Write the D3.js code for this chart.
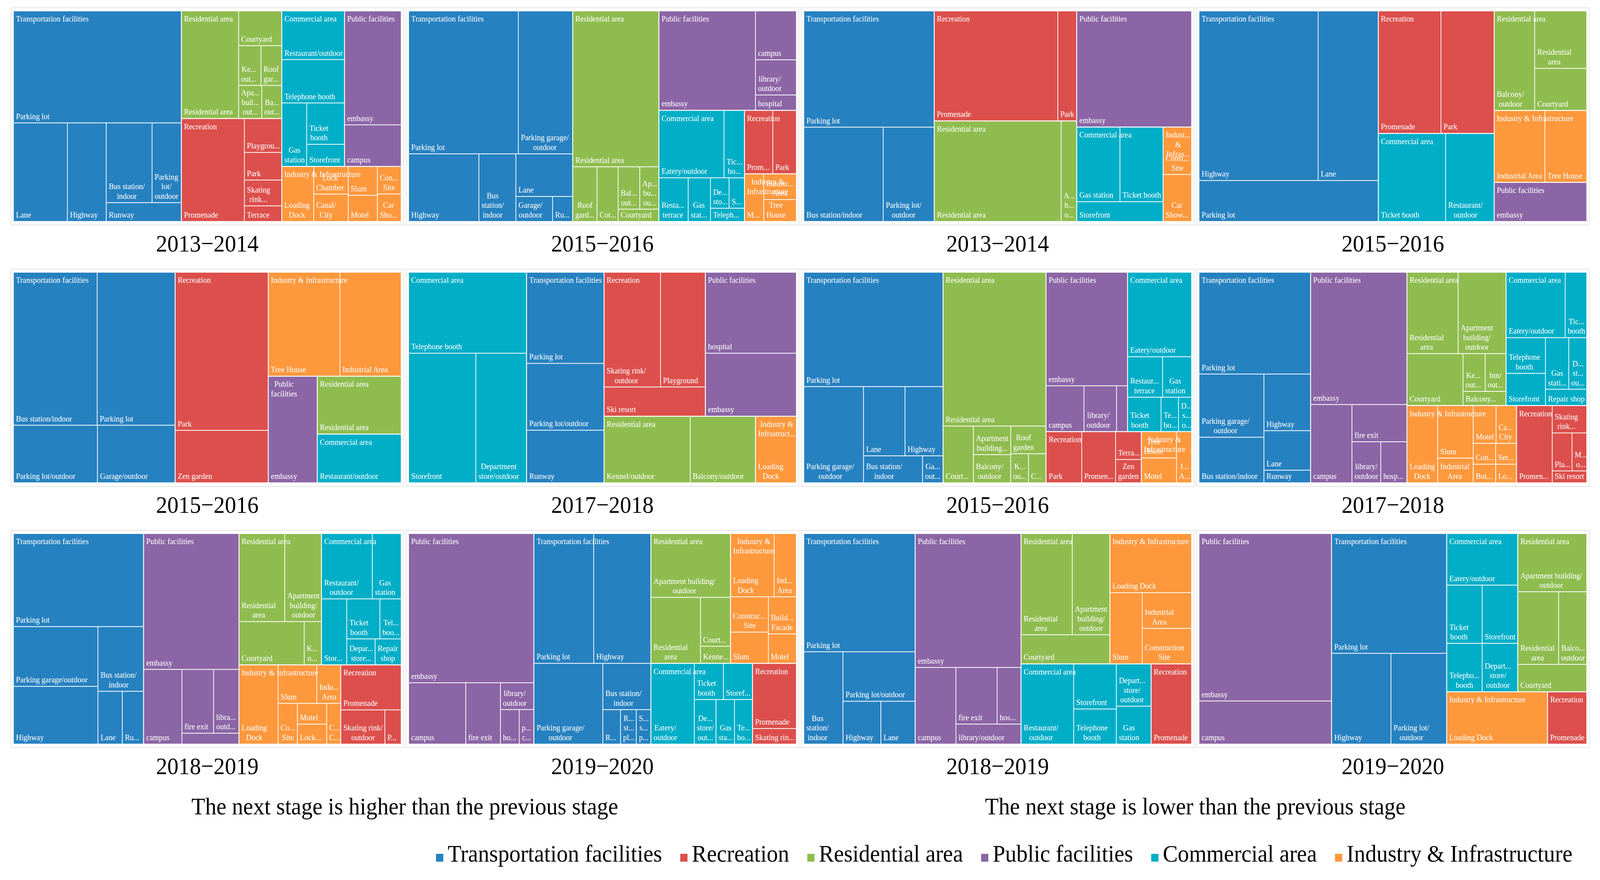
<!DOCTYPE html>
<html>
<head>
<meta charset="utf-8">
<script src="https://cdn.jsdelivr.net/npm/d3@7"></script>
<style>
  html, body { margin: 0; padding: 0; background: #fff; overflow: hidden; }
  svg { display: block; width: 100vw; height: 100vh; }
</style>
</head>
<body>
<svg id="chart"></svg>
<script>
// ---- categories ----
var categoryKeys = ["T", "Rc", "Rs", "P", "C", "I"];
var categoryNames = ["Transportation facilities", "Recreation", "Residential area",
                     "Public facilities", "Commercial area", "Industry & Infrastructure"];
var categoryColors = ["#2681c0", "#dc4f4c", "#8fbc4f", "#8b65a5", "#00aec7", "#fe983d"];

var panelTitles = ["2013\u22122014", "2015\u22122016", "2013\u22122014", "2015\u22122016",
                   "2015\u22122016", "2017\u22122018", "2015\u22122016", "2017\u22122018",
                   "2018\u22122019", "2019\u22122020", "2018\u22122019", "2019\u22122020"];
var captions = ["The next stage is higher than the previous stage",
                "The next stage is lower than the previous stage"];

// ---- values: [category, scene, share] ----
var higher1314 = [
  ["T","Parking lot",226],["T","Lane",64],["T","Highway",46],["T","Bus station/indoor",44],["T","Parking lot/outdoor",28],["T","Runway",17],
  ["Rs","Residential area",74],["Rs","Courtyard",18],["Rs","Kennel/outdoor",10.7],["Rs","Roof garden",9.9],["Rs","Apartment building/outdoor",9.2],["Rs","Balcony/outdoor",7.9],
  ["Rc","Promenade",78],["Rc","Playground",15.2],["Rc","Park",12.4],["Rc","Skating rink/outdoor",11.6],["Rc","Terrace",7],
  ["C","Restaurant/outdoor",36.7],["C","Telephone booth",32.7],["C","Gas station",19],["C","Ticket booth",18.8],["C","Storefront",10],
  ["P","embassy",77.7],["P","campus",28.3],
  ["I","Loading Dock",21.1],["I","Lock Chamber",11.5],["I","Canal/City",11.4],["I","Slum",10.1],["I","Motel",9.2],["I","Construction Site",7.9],["I","Car Showroom",7.9]
];
var higher1516a = [
  ["T","Parking lot",188],["T","Parking garage/outdoor",93],["T","Highway",57],["T","Bus station/indoor",30],["T","Lane",29],["T","Garage/outdoor",11],["T","Runway",6],
  ["Rs","Residential area",161],["Rs","Roof garden",15.9],["Rs","Cottage",13.9],["Rs","Balcony/outdoor",11],["Rs","Apartment building/outdoor",9.7],["Rs","Courtyard",6],
  ["P","embassy",115],["P","campus",24],["P","library/outdoor",17.3],["P","hospital",7.5],
  ["C","Eatery/outdoor",52.6],["C","Ticket booth",16.5],["C","Restaurant terrace",15.3],["C","Gas station",11.7],["C","Department store/outdoor",6.8],["C","Storefront",5.6],["C","Telephone booth",5.4],
  ["Rc","Promenade",21.5],["Rc","Park",18],
  ["I","Motel",11],["I","Industrial Area",10.1],["I","Tree House",8.6]
];
var lower1314 = [
  ["T","Parking lot",183],["T","Bus station/indoor",90.5],["T","Parking lot/outdoor",58],
  ["Rc","Promenade",164],["Rc","Park",25],
  ["Rs","Residential area",154],["Rs","Apartment building/outdoor",18.8],
  ["P","embassy",161],
  ["C","Gas station",39],["C","Ticket booth",38.9],["C","Storefront",20.6],
  ["I","Construction Site",16.3],["I","Car Showroom",16.2]
];
var lower1516a = [
  ["T","Highway",244],["T","Lane",123],["T","Parking lot",88.6],
  ["Rc","Promenade",92.6],["Rc","Park",78.7],
  ["C","Ticket booth",71.5],["C","Restaurant/outdoor",51.6],
  ["Rs","Balcony/outdoor",48.6],["Rs","Residential area",36.2],["Rs","Courtyard",26.5],
  ["I","Industrial Area",44],["I","Tree House",36.3],
  ["P","embassy",43.8]
];
var higher1516b = [
  ["T","Bus station/indoor",155],["T","Parking lot",144],["T","Parking lot/outdoor",58.5],["T","Garage/outdoor",54],
  ["Rc","Park",178],["Rc","Zen garden",59],
  ["I","Tree House",90],["I","Industrial Area",77],
  ["P","embassy",63],
  ["Rs","Residential area",58.7],
  ["C","Restaurant/outdoor",49.5]
];
var higher1718 = [
  ["C","Telephone booth",115],["C","Storefront",105],["C","Department store/outdoor",79],
  ["T","Parking lot",85],["T","Parking lot/outdoor",62.3],["T","Runway",49],
  ["Rc","Skating rink/outdoor",78],["Rc","Playground",62],["Rc","Ski resort",35.6],
  ["P","hospital",88.8],["P","embassy",69],
  ["Rs","Kennel/outdoor",69],["Rs","Balcony/outdoor",52.3],
  ["I","Loading Dock",32.8]
];
var lower1516b = [
  ["T","Parking lot",191],["T","Parking garage/outdoor",68.9],["T","Lane",34.5],["T","Highway",31.5],["T","Bus station/indoor",19.1],["T","Garage/outdoor",6.6],
  ["Rs","Residential area",190],["Rs","Courtyard",20.6],["Rs","Apartment building/outdoor",12.8],["Rs","Balcony/outdoor",12.6],["Rs","Roof garden",11.7],["Rs","Kennel/outdoor",6.2],["Rs","Cottage",6.1],
  ["P","embassy",111],["P","campus",20.8],["P","library/outdoor",17.9],["P","hospital",6],
  ["C","Eatery/outdoor",65],["C","Restaurant terrace",17],["C","Gas station",14.1],["C","Ticket booth",13.8],["C","Telephone booth",7.2],["C","Department store/outdoor",5.4],
  ["Rc","Park",21.9],["Rc","Promenade",20.8],["Rc","Terrace",8.6],["Rc","Zen garden",7.2],
  ["I","Tree House",11.1],["I","Motel",10.5],["I","Industrial Area",9.3]
];
var lower1718 = [
  ["T","Parking lot",135.6],["T","Parking garage/outdoor",49],["T","Bus station/indoor",35.3],["T","Highway",31.5],["T","Lane",22],["T","Runway",7],
  ["P","embassy",152],["P","campus",38.6],["P","fire exit",24.4],["P","library/outdoor",14.1],["P","hospital",12.8],
  ["Rs","Residential area",49.7],["Rs","Apartment building/outdoor",46.5],["Rs","Courtyard",34.7],["Rs","Kennel/outdoor",10],["Rs","Inn/outdoor",9.4],["Rs","Balcony/outdoor",7.2],
  ["C","Eatery/outdoor",46.2],["C","Ticket booth",16.9],["C","Telephone booth",16.8],["C","Storefront",15.1],["C","Gas station",14.4],["C","Department store/outdoor",11.1],["C","Repair shop",8],
  ["I","Loading Dock",28.3],["I","Slum",22.3],["I","Industrial Area",10.5],["I","Motel",10.3],["I","Canal/City",9.2],["I","Construction Site",5.6],["I","Server room",5.2],["I","Building Facade",5],["I","Lock Chamber",4.6],
  ["Rc","Promenade",32.9],["Rc","Skating rink/outdoor",11.3],["Rc","Playground",9],["Rc","Mountain/outdoor",6.7],["Rc","Ski resort",4.9]
];
var higher1819 = [
  ["T","Parking lot",145],["T","Parking garage/outdoor",60.5],["T","Highway",58.4],["T","Bus station/indoor",35.3],["T","Lane",15.4],["T","Runway",13.4],
  ["P","embassy",155],["P","campus",34.2],["P","fire exit",24.2],["P","library/outdoor",19.4],["P","hospital",7.4],
  ["Rs","Residential area",48.2],["Rs","Apartment building/outdoor",38.7],["Rs","Courtyard",33.7],["Rs","Kennel/outdoor",8.9],
  ["C","Restaurant/outdoor",39.8],["C","Gas station",22.6],["C","Storefront",19.9],["C","Ticket booth",15.9],["C","Telephone booth",10.2],["C","Department store/outdoor",8.8],["C","Repair shop",8.1],
  ["I","Loading Dock",37.1],["I","Slum",17.8],["I","Industrial Area",11],["I","Construction Site",9.4],["I","Motel",7.3],["I","Lock Chamber",7],["I","Canal/City",6.8],
  ["Rc","Promenade",32.6],["Rc","Skating rink/outdoor",18.1],["Rc","Park",6.7]
];
var higher1920 = [
  ["P","embassy",224],["P","campus",42],["P","fire exit",25.5],["P","library/outdoor",10.7],["P","hospital",7.8],["P","prison cell",6],
  ["T","Parking lot",93],["T","Highway",88.9],["T","Parking garage/outdoor",66.7],["T","Bus station/indoor",26.6],["T","Runway",7.3],["T","Railway station/platform",6.5],["T","Subway station/platform",6],
  ["Rs","Apartment building/outdoor",60.9],["Rs","Residential area",39.2],["Rs","Courtyard",17.6],["Rs","Kennel/outdoor",6.1],
  ["I","Loading Dock",33.1],["I","Industrial Area",16.9],["I","Construction Site",16],["I","Slum",14.1],["I","Building Facade",12.5],["I","Motel",9.9],
  ["C","Eatery/outdoor",42],["C","Ticket booth",12.6],["C","Storefront",12.6],["C","Department store/outdoor",11.6],["C","Gas station",9.9],["C","Telephone booth",9.6],
  ["Rc","Promenade",34.3],["Rc","Skating rink/outdoor",8.2]
];
var lower1819 = [
  ["T","Parking lot",158],["T","Bus station/indoor",43.4],["T","Parking lot/outdoor",42.9],["T","Highway",19.5],["T","Lane",17.6],
  ["P","embassy",170],["P","campus",37.4],["P","fire exit",28],["P","hospital",16.2],["P","library/outdoor",15.6],
  ["Rs","Residential area",62.2],["Rs","Apartment building/outdoor",45.7],["Rs","Courtyard",31],
  ["I","Loading Dock",58],["I","Slum",27.6],["I","Industrial Area",21.2],["I","Construction Site",21],
  ["C","Restaurant/outdoor",50.6],["C","Storefront",23.1],["C","Telephone booth",18],["C","Department store/outdoor",17.6],["C","Gas station",15.8],
  ["Rc","Promenade",39]
];
var lower1920 = [
  ["P","embassy",267.7],["P","campus",68.9],
  ["T","Parking lot",166.3],["T","Highway",65],["T","Parking lot/outdoor",61],
  ["C","Eatery/outdoor",44.2],["C","Ticket booth",24.9],["C","Storefront",25],["C","Telephone booth",20.7],["C","Department store/outdoor",20.8],
  ["Rs","Apartment building/outdoor",48.5],["Rs","Residential area",35.8],["Rs","Balcony/outdoor",24.7],["Rs","Courtyard",22.8],
  ["I","Loading Dock",63.6],
  ["Rc","Promenade",24.8]
];

// strip order of the tiling: c = column on the left, r = row on top, n = children in it
var higher1314Tiling = {root:"c1 c2 r2 r1", T:"r1 c1 c1 r2 r1", Rs:"c1 r1 r2 c1 c1", Rc:"c1 c4", C:"r1 r1 c1 c2", P:"c2", I:"c1 c2 c2 c2"};
var higher1516aTiling = {root:"c1 c1 r1 c1 c2", T:"r2 c1 c1 r1 r2", Rs:"r1 c1 c1 r2 r1", P:"c1 c3", C:"r2 c1 c1 r2 r1", Rc:"c1 c1", I:"c1 c2"};
var lower1314Tiling = {root:"c1 c2 r1 c1 c1", T:"r1 c1 c1", Rc:"c1 c1", Rs:"c1 c1", C:"r2 r1", I:"c2"};
var lower1516aTiling = {root:"c1 c2 c3", T:"r2 r1", Rc:"c1 c1", C:"c1 c1", Rs:"c1 c2", I:"c1 c1"};
var higher1516bTiling = {root:"c1 c1 r1 c1 c2", T:"r2 r2", Rc:"c2", I:"c1 c1"};
var higher1718Tiling = {root:"c1 c1 r2 r2", C:"r1 r2", T:"c3", Rc:"r2 r1", P:"c2", Rs:"c1 c1"};
var lower1516bTiling = {root:"c1 c1 r2 r2", T:"r1 c1 r2 r2", Rs:"r1 c1 c2 r1 r2", P:"r1 r3", C:"r1 r2 r3", Rc:"c1 c1 c2", I:"c2 c1"};
var lower1718Tiling = {root:"c1 c1 r2 r2", T:"r1 c2 c3", P:"r1 c1 r1 r2", Rs:"r2 c1 r2 r1", C:"r2 c2 r2 r1", I:"c1 c2 r2 r2 r2", Rc:"c1 r1 r2 r1"};
var higher1819Tiling = {root:"c1 c1 r2 r2", T:"r1 c2 r1 r2", P:"r1 c1 r2 r1", Rs:"r2 r2", C:"r2 c1 r2 r2", I:"c1 r2 c1 c2 c1", Rc:"r1 r2"};
var higher1920Tiling = {root:"c1 c1 r2 r2", P:"r1 c1 c1 r1 r2", T:"r2 c1 r1 r3", Rs:"r1 c1 c2", I:"r2 c2 c2", C:"c1 r2 r3", Rc:"c2"};
var lower1819Tiling = {root:"c1 c1 r2 r2", T:"r1 c1 r1 r2", P:"r1 c1 r2 r1", Rs:"r2 r1", I:"r1 c1 c2", C:"c1 c2 c2"};
var lower1920Tiling = {root:"c1 c1 r2 r2", P:"c2", T:"r1 r2", C:"r1 r2 r2", Rs:"r1 r2 r1"};

var panels = [
  [higher1314, higher1314Tiling], [higher1516a, higher1516aTiling], [lower1314, lower1314Tiling], [lower1516a, lower1516aTiling],
  [higher1516b, higher1516bTiling], [higher1718, higher1718Tiling], [lower1516b, lower1516bTiling], [lower1718, lower1718Tiling],
  [higher1819, higher1819Tiling], [higher1920, higher1920Tiling], [lower1819, lower1819Tiling], [lower1920, lower1920Tiling]
];

// ---- drawing ----
var W = 4415, H = 2253;
var FONT = '"Liberation Serif", "Times New Roman", serif';
var LABEL_PX = 21, LINE_H = 24.5, PAD_X = 6;
var TM_W = 1068, TM_H = 537;
var BIG_PX = 62;

var color = d3.scaleOrdinal().domain(categoryKeys).range(categoryColors);
var nameOf = d3.scaleOrdinal().domain(categoryKeys).range(categoryNames);

// the drawing is laid out on a 4415 x 2253 canvas and fills the whole window
var svg = d3.select("#chart")
  .attr("viewBox", "0 0 " + W + " " + H)
  .attr("preserveAspectRatio", "none");
svg.append("rect").attr("width", W).attr("height", H).attr("fill", "#fff");

var ctx = document.createElement("canvas").getContext("2d");
function tw(s, px) {
  ctx.font = (px || LABEL_PX) + "px " + FONT;
  return ctx.measureText(s).width;
}

function ellipsize(s, maxW) {
  s = s.replace(/\/$/, "");
  while (s.length > 1 && tw(s + "...") > maxW) s = s.slice(0, -1);
  return s + "...";
}

function wrapLabel(text, maxW, maxLines) {
  if (maxLines < 1 || maxW < 22) return [];
  if (tw(text) <= maxW) return [text];
  var tokens = [];
  text.split(" ").forEach(function(w) { tokens = tokens.concat(w.split(/(?<=\/)/)); });
  var lines = [], line = "";
  tokens.forEach(function(tok) {
    if (tw(tok) > maxW) {
      if (line) lines.push(line);
      lines.push(ellipsize(tok, maxW));
      line = "";
      return;
    }
    if (!line) { line = tok; return; }
    var cand = line + (line.endsWith("/") ? "" : " ") + tok;
    if (tw(cand) <= maxW) line = cand;
    else { lines.push(line); line = tok; }
  });
  if (line) lines.push(line);
  if (lines.length > maxLines) {
    lines.length = maxLines;
    var last = lines[maxLines - 1];
    if (!last.endsWith("...")) lines[maxLines - 1] = ellipsize(last, maxW);
  }
  return lines;
}

function drawLines(g, lines, x, firstBaseline) {
  if (!lines.length) return;
  var bw = d3.max(lines, function(l) { return tw(l); });
  var multi = lines.length > 1;
  var t = g.append("text")
    .attr("fill", "#fff")
    .attr("font-family", FONT)
    .attr("font-size", LABEL_PX)
    .attr("text-anchor", multi ? "middle" : "start");
  lines.forEach(function(l, i) {
    t.append("tspan")
      .attr("x", multi ? x + bw / 2 : x)
      .attr("y", firstBaseline + i * LINE_H)
      .text(l);
  });
}

function planTile(plans) {
  return function(parent, x0, y0, x1, y1) {
    var plan = plans[parent.depth === 0 ? "root" : parent.data.key];
    if (!plan) { d3.treemapSquarify.ratio(1)(parent, x0, y0, x1, y1); return; }
    var kids = parent.children, total = parent.value, i = 0;
    plan.split(" ").forEach(function(tok) {
      var n = +tok.slice(1);
      var part = kids.slice(i, i + n);
      i += n;
      if (!part.length) return;
      var v = d3.sum(part, function(d) { return d.value; });
      var strip = {children: part, value: v};
      if (tok[0] === "c") {
        var xm = x0 + (x1 - x0) * v / total;
        d3.treemapSlice(strip, x0, y0, xm, y1);
        x0 = xm;
      } else {
        var ym = y0 + (y1 - y0) * v / total;
        d3.treemapDice(strip, x0, y0, x1, ym);
        y0 = ym;
      }
      total -= v;
    });
  };
}

panels.forEach(function(p, idx) {
  var col = idx % 4, row = Math.floor(idx / 4);
  var left = 38 + col * 1090.5, top = 29 + row * 669;

  var root = d3.hierarchy({
      key: "root",
      children: d3.groups(p[0], function(d) { return d[0]; }).map(function(gr) {
        return {key: gr[0], children: gr[1].map(function(r) { return {key: r[0], name: r[1], value: r[2]}; })};
      })
    })
    .sum(function(d) { return d.value || 0; });

  d3.treemap()
    .size([TM_W, TM_H])
    .paddingInner(function(n) { return n.depth === 0 ? 2.5 : 2; })
    .tile(planTile(p[1]))(root);

  var g = svg.append("g").attr("transform", "translate(" + left + "," + top + ")");

  g.append("rect")
    .attr("x", -8).attr("y", -9)
    .attr("width", TM_W + 16).attr("height", TM_H + 19)
    .attr("fill", "none").attr("stroke", "#e4e4e4").attr("stroke-width", 2);

  var leaves = root.leaves();
  g.selectAll("rect.leaf").data(leaves).join("rect")
    .attr("class", "leaf")
    .attr("x", function(d) { return d.x0; })
    .attr("y", function(d) { return d.y0; })
    .attr("width", function(d) { return d.x1 - d.x0; })
    .attr("height", function(d) { return d.y1 - d.y0; })
    .attr("fill", function(d) { return color(d.data.key); });

  leaves.forEach(function(d) {
    var w = d.x1 - d.x0, h = d.y1 - d.y0;
    var maxLines = Math.floor((h - 28) / LINE_H) + 1;
    var lines = wrapLabel(d.data.name, w - PAD_X - 3, maxLines);
    drawLines(g, lines, d.x0 + PAD_X, d.y1 - 9 - (lines.length - 1) * LINE_H);
  });

  root.children.forEach(function(c) {
    var w = c.x1 - c.x0, h = c.y1 - c.y0;
    var maxLines = Math.min(3, Math.floor((h - 8) / LINE_H));
    var lines = wrapLabel(nameOf(c.data.key), w - PAD_X - 1, maxLines);
    drawLines(g, lines, c.x0 + PAD_X, c.y0 + 26);
  });

  g.append("text")
    .attr("x", TM_W / 2).attr("y", TM_H + 78)
    .attr("text-anchor", "middle")
    .attr("font-family", FONT).attr("font-size", BIG_PX)
    .attr("fill", "#000")
    .text(panelTitles[idx]);
});

// captions under the two halves
captions.forEach(function(c, i) {
  svg.append("text")
    .attr("x", i === 0 ? 1117 : 3298).attr("y", 2085)
    .attr("text-anchor", "middle")
    .attr("font-family", FONT).attr("font-size", BIG_PX)
    .attr("fill", "#000")
    .text(c);
});

// legend, right aligned
var SQ = 20, SQ_GAP = 12, ITEM_GAP = 50, LEG_RIGHT = 4339, LEG_BASE = 2206;
var widths = categoryNames.map(function(n) { return tw(n, BIG_PX); });
var total = d3.sum(widths) + categoryNames.length * (SQ + SQ_GAP) + (categoryNames.length - 1) * ITEM_GAP;
var lx = LEG_RIGHT - total;
var legend = svg.append("g");
categoryKeys.forEach(function(k, i) {
  legend.append("rect")
    .attr("x", lx).attr("y", LEG_BASE - SQ)
    .attr("width", SQ).attr("height", SQ)
    .attr("fill", color(k));
  legend.append("text")
    .attr("x", lx + SQ + SQ_GAP).attr("y", LEG_BASE)
    .attr("font-family", FONT).attr("font-size", BIG_PX)
    .attr("fill", "#000")
    .text(categoryNames[i]);
  lx += SQ + SQ_GAP + widths[i] + ITEM_GAP;
});
</script>
</body>
</html>
